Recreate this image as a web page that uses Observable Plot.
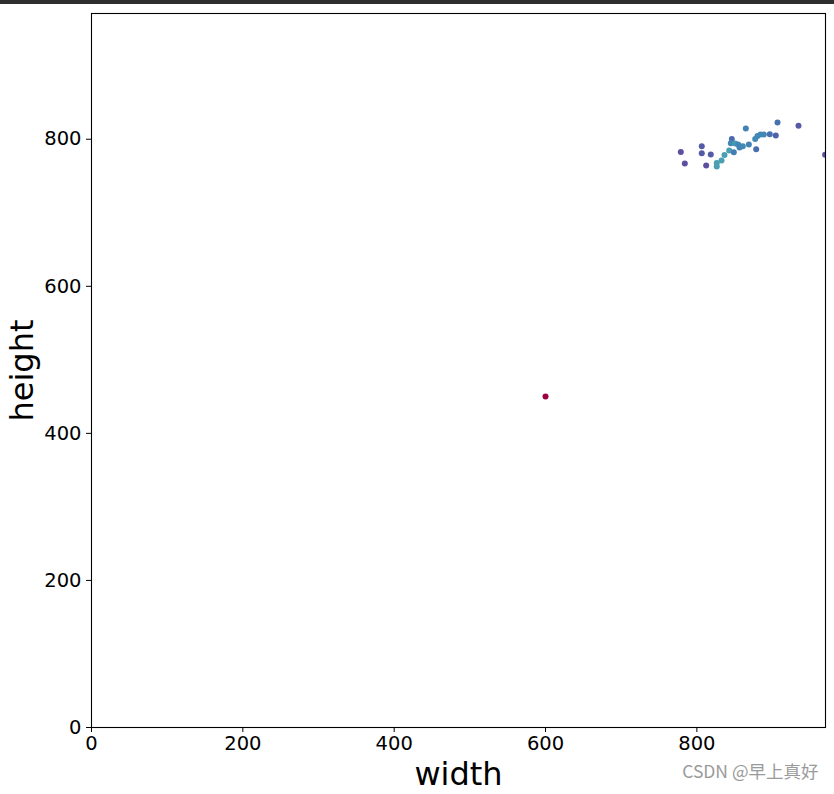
<!DOCTYPE html>
<html>
<head>
<meta charset="utf-8">
<script src="https://cdn.jsdelivr.net/npm/d3@7"></script>
<script src="https://cdn.jsdelivr.net/npm/@observablehq/plot@0.6"></script>
<style>
  html, body { margin: 0; padding: 0; background: #fff; }
  #wrap { position: relative; width: 834px; height: 794px; overflow: hidden; }
  #topbar { position: absolute; left: 0; top: 0; width: 834px; height: 4px; background: #2e2e2e; }
</style>
</head>
<body>
<div id="wrap"><div id="topbar"></div></div>
<script>
// Scatter data: box width, height, colour value (Spectral scale 0..1)
const widths  = [778.8, 784.1, 806.5, 806.5, 812.3, 818.4, 826.3, 826.3, 832.6, 836.5, 842.7, 846.2, 844.9, 848.8, 850.7, 854.6, 856.4, 860.7, 864.7, 868.7, 877.1, 878.4, 880.1, 884.1, 888.5, 896.4, 904.3, 906.6, 934.3, 969.5, 600];
const heights = [782.7, 767.0, 790.5, 781.0, 764.2, 779.2, 767.8, 762.9, 771.0, 778.6, 784.6, 800.4, 794.6, 782.3, 794.1, 792.8, 788.7, 790.5, 814.6, 792.8, 800.4, 786.4, 804.5, 806.4, 806.4, 806.8, 805.0, 822.6, 818.5, 779.0, 450];
const values  = [1.0, 1.0, 0.98, 0.98, 1.0, 0.98, 0.86, 0.86, 0.86, 0.86, 0.86, 0.95, 0.9, 0.92, 0.87, 0.9, 0.91, 0.9, 0.91, 0.91, 0.9, 0.95, 0.9, 0.9, 0.9, 0.94, 0.97, 0.94, 0.98, 1.0, 0.0];
const xTicks = [0, 200, 400, 600, 800];
const yTicks = [0, 200, 400, 600, 800];
const xLabel = "width";
const yLabel = "height";
const watermark = "CSDN @早上真好";

const data = widths.map((w, i) => ({w, h: heights[i], c: values[i]}));

const chart = Plot.plot({
  width: 834,
  height: 794,
  marginLeft: 91,
  marginRight: 9,
  marginTop: 13,
  marginBottom: 67,
  style: {fontFamily: "DejaVu Sans", background: "transparent", overflow: "visible"},
  x: {domain: [0, 970]},
  y: {domain: [0, 971]},
  color: {type: "linear", scheme: "spectral", domain: [0, 1]},
  marks: [
    Plot.dot(data, {x: "w", y: "h", fill: "c", r: 3, clip: true}),
    Plot.frame({stroke: "black", strokeWidth: 1.1}),
    Plot.axisX({ticks: xTicks, tickSize: 5, tickPadding: 4, fontSize: 19.5, label: null, tickFormat: d => String(d), stroke: "black", color: "black"}),
    Plot.axisY({ticks: yTicks, tickSize: 5, tickPadding: 5, fontSize: 19.5, label: null, tickFormat: d => String(d), stroke: "black", color: "black"}),
    Plot.text([xLabel], {frameAnchor: "bottom", text: d => d, textAnchor: "middle", dy: 57, fontSize: 32, fill: "black"}),
    Plot.text([yLabel], {frameAnchor: "left", text: d => d, rotate: -90, textAnchor: "middle", lineAnchor: "middle", dx: -69, fontSize: 32, fill: "black"}),
    Plot.text([watermark], {frameAnchor: "bottom-right", text: d => d, textAnchor: "end", dx: -7, dy: 50, fontSize: 17.5, fill: "#9a9a9a", fontFamily: "Noto Sans CJK SC"})
  ]
});
document.getElementById("wrap").prepend(chart);
</script>
</body>
</html>
